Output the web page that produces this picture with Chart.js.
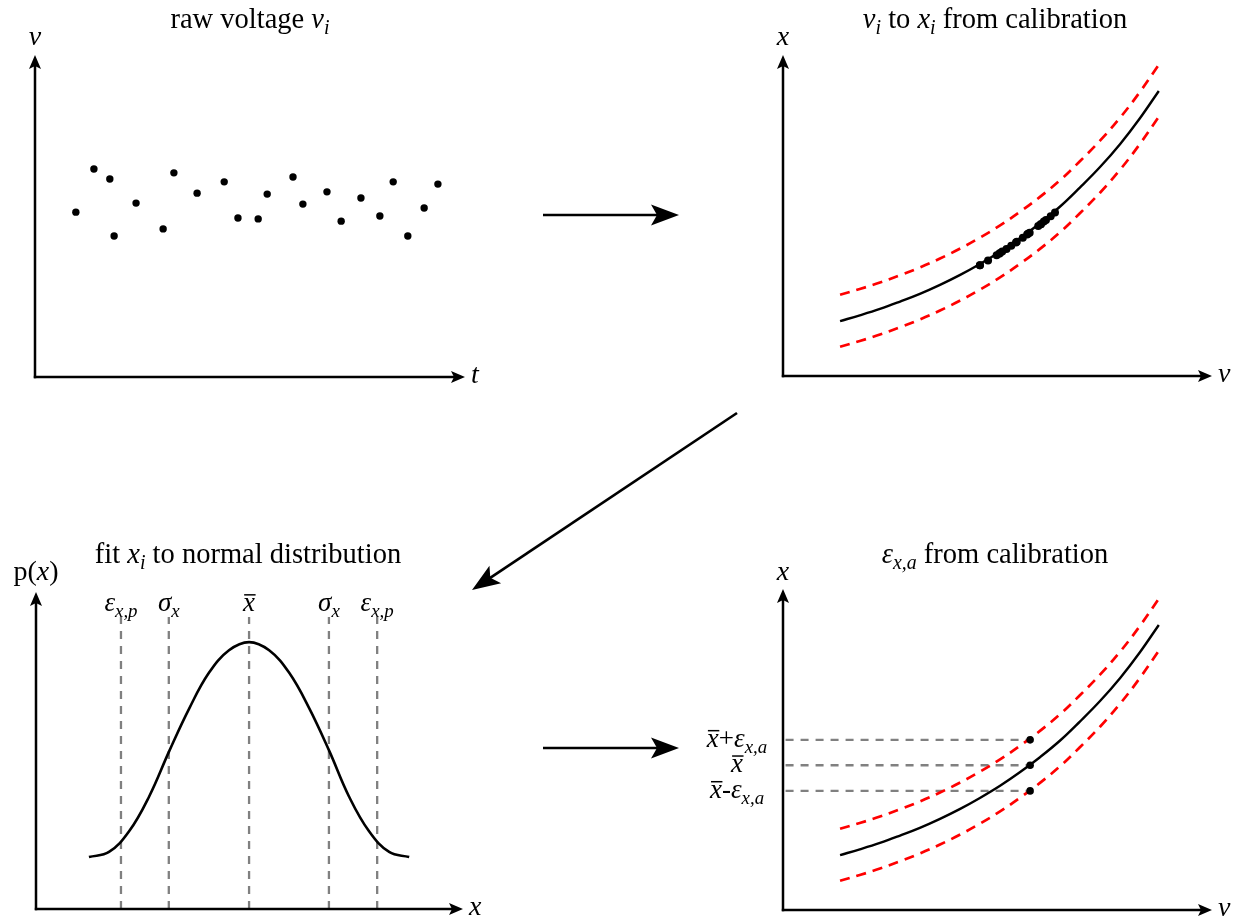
<!DOCTYPE html>
<html>
<head>
<meta charset="utf-8">
<title>Measurement uncertainty workflow</title>
<script src="https://cdn.jsdelivr.net/npm/chart.js@4.4.1/dist/chart.umd.min.js"></script>
<style>
  html, body { margin: 0; padding: 0; background: #ffffff; }
  #stage { position: relative; width: 1239px; height: 921px; overflow: hidden; background: #ffffff; }
  #stage canvas { position: absolute; left: 0; top: 0; }
</style>
</head>
<body>
<div id="stage">
  <canvas id="rawPanel" width="1239" height="921"></canvas>
  <canvas id="calPanel" width="1239" height="921"></canvas>
  <canvas id="fitPanel" width="1239" height="921"></canvas>
  <canvas id="accPanel" width="1239" height="921"></canvas>
</div>
<script>
// ---------- raw voltage samples (time, voltage) ----------
const rawTime    = [9.5, 13.7, 17.4, 18.4, 23.5, 29.8, 32.3, 37.7, 44.0, 47.2, 51.9,
                    54.0, 60.0, 62.3, 67.9, 71.2, 75.8, 80.2, 83.3, 86.7, 90.5, 93.7];
const rawVoltage = [51.2, 64.6, 61.5, 43.8, 54.0, 46.0, 63.4, 57.1, 60.6, 49.4, 49.1,
                    56.8, 62.1, 53.7, 57.5, 48.4, 55.6, 50.0, 60.6, 43.8, 52.5, 59.9];

// ---------- calibration curve and its uncertainty band ----------
const calibV     = [13.3, 17.9, 22.6, 27.3, 31.9, 36.6, 41.3, 45.9, 50.6,
                    55.2, 59.9, 64.6, 69.2, 73.9, 78.6, 83.2, 87.6];
const calibX     = [17.1, 18.9, 20.9, 23.2, 25.6, 28.4, 31.5, 34.9, 38.7,
                    42.9, 47.6, 52.8, 58.7, 65.1, 72.3, 80.3, 88.8];
const calibUpper = [25.3, 27.1, 29.1, 31.4, 33.8, 36.6, 39.7, 43.1, 46.9,
                    51.1, 55.8, 61.0, 66.9, 73.3, 80.5, 88.5, 97.0];
const calibLower = [9.1, 10.9, 12.9, 15.2, 17.6, 20.4, 23.5, 26.9, 30.7,
                    34.9, 39.6, 44.8, 50.7, 57.1, 64.3, 72.3, 80.8];

// ---------- samples converted through the calibration ----------
const convV = [45.9, 45.9, 47.8, 49.8, 50.4, 50.6, 51.1, 52.1, 53.2, 54.3, 54.5,
               55.9, 56.9, 57.1, 57.5, 59.5, 60.1, 60.1, 60.8, 61.3, 62.4, 63.4];
const convX = [34.5, 34.5, 36.0, 37.6, 38.1, 38.3, 38.8, 39.6, 40.6, 41.6, 41.8,
               43.1, 44.1, 44.3, 44.6, 46.7, 47.3, 47.3, 48.1, 48.6, 49.8, 50.9];

// ---------- fitted normal distribution ----------
const pdfX = [12.4, 17.1, 21.8, 26.5, 31.2, 35.9, 40.5, 45.2, 49.9,
              54.6, 59.3, 64.0, 68.7, 73.3, 78.0, 82.7, 87.4];
const pdfP = [16.4, 18.0, 24.5, 35.5, 49.8, 63.3, 74.5, 81.6, 84.2,
              81.6, 74.5, 63.3, 49.8, 35.5, 24.5, 18.0, 16.4];
const pdfMarks = [19.9, 31.1, 49.9, 68.6, 79.9];          // eps, sigma, mean, sigma, eps
const pdfMarkTop = 92.1;

// ---------- accuracy ----------
const meanV = 57.6;
const accLevels = [53.0, 45.1, 37.1];                      // mean+eps, mean, mean-eps

// ---------- drawing helpers ----------
const FONT = '"Liberation Serif", "Times New Roman", serif';
const TITLE_SIZE = 28.5, AXIS_SIZE = 28, MARK_SIZE = 27;

function segFont(s, size) {
  const sz = s.sub ? size * 0.7 : size;
  return (s.it ? 'italic ' : '') + sz.toFixed(1) + 'px ' + FONT;
}

function drawRich(ctx, segs, x, y, size, align) {
  const widths = segs.map(s => { ctx.font = segFont(s, size); return ctx.measureText(s.t).width; });
  const total = widths.reduce((a, b) => a + b, 0);
  let cx = align === 'center' ? x - total / 2 : align === 'right' ? x - total : x;
  ctx.textBaseline = 'alphabetic';
  ctx.textAlign = 'left';
  segs.forEach((s, i) => {
    ctx.font = segFont(s, size);
    const yy = s.sub ? y + size * 0.22 : y;
    ctx.fillText(s.t, cx, yy);
    if (s.bar) {
      const top = yy - size * 0.6;
      ctx.lineWidth = Math.max(1.3, size * 0.055);
      ctx.beginPath();
      ctx.moveTo(cx + size * 0.04, top);
      ctx.lineTo(cx + widths[i] + size * 0.02, top);
      ctx.stroke();
    }
    cx += widths[i];
  });
}

function arrow(ctx, x1, y1, x2, y2, len, half, notch, lw) {
  const a = Math.atan2(y2 - y1, x2 - x1);
  const ux = Math.cos(a), uy = Math.sin(a);
  const nx = x2 - ux * (len - notch), ny = y2 - uy * (len - notch);
  const bx = x2 - ux * len, by = y2 - uy * len;
  ctx.lineWidth = lw;
  ctx.beginPath();
  ctx.moveTo(x1, y1);
  ctx.lineTo(nx + ux, ny + uy);
  ctx.stroke();
  ctx.beginPath();
  ctx.moveTo(x2, y2);
  ctx.lineTo(bx - uy * half, by + ux * half);
  ctx.lineTo(nx, ny);
  ctx.lineTo(bx + uy * half, by - ux * half);
  ctx.closePath();
  ctx.fill();
}

// axes with arrow heads, axis names and the panel title
function makeDecor(id, cfg) {
  return {
    id: id,
    afterDatasetsDraw(chart) {
      const ctx = chart.ctx, a = chart.chartArea;
      ctx.save();
      ctx.fillStyle = '#000';
      ctx.strokeStyle = '#000';
      ctx.lineCap = 'butt';
      arrow(ctx, a.left - 1.2, a.bottom, a.right, a.bottom, 14, 6, 3, 2.5);
      arrow(ctx, a.left, a.bottom + 1.2, a.left, a.top, 14, 6, 3, 2.5);
      drawRich(ctx, cfg.title, cfg.titleAt[0], cfg.titleAt[1], TITLE_SIZE, 'center');
      drawRich(ctx, cfg.yName, a.left, cfg.yNameY, AXIS_SIZE, 'center');
      drawRich(ctx, cfg.xName, a.right + 6, a.bottom + 6, AXIS_SIZE, 'left');
      if (cfg.extra) cfg.extra(chart, ctx);
      ctx.restore();
    }
  };
}

// the arrows that lead from one panel to the next
const flowPlugin = {
  id: 'flow',
  afterDraw(chart) {
    const ctx = chart.ctx;
    ctx.save();
    ctx.fillStyle = '#000';
    ctx.strokeStyle = '#000';
    arrow(ctx, 543, 215, 679, 215, 28, 10.5, 6, 2.7);
    arrow(ctx, 737, 413, 472, 590, 28, 10.5, 6, 2.7);
    arrow(ctx, 543, 748, 679, 748, 28, 10.5, 6, 2.7);
    ctx.restore();
  }
};

const pts = (xs, ys) => xs.map((x, i) => ({ x: x, y: ys[i] }));

function baseOptions(area) {
  return {
    responsive: false,
    animation: false,
    devicePixelRatio: 1,
    events: [],
    layout: { padding: { left: area[0], top: area[1], right: 1239 - area[2], bottom: 921 - area[3] } },
    elements: { line: { capBezierPoints: false } },
    scales: {
      x: { type: 'linear', min: 0, max: 100, display: false },
      y: { type: 'linear', min: 0, max: 100, display: false }
    },
    plugins: { legend: { display: false }, tooltip: { enabled: false } }
  };
}

// datasets listed first are painted last (on top)
function curveSet(xs, ys, color, width, dash) {
  return {
    data: pts(xs, ys), showLine: true, borderColor: color, borderWidth: width,
    borderDash: dash || [], pointRadius: 0, tension: 0.4,
    fill: false, clip: false
  };
}

function guideSet(xs, ys) {
  return {
    data: pts(xs, ys), showLine: true, borderColor: 'rgb(128, 128, 128)', borderWidth: 2.3,
    borderDash: [8, 7], pointRadius: 0, tension: 0, fill: false, clip: false
  };
}

function dotSet(xs, ys, r) {
  return {
    data: pts(xs, ys), showLine: false, pointRadius: r, pointBackgroundColor: '#000',
    pointBorderWidth: 0, borderColor: '#000', clip: false
  };
}

const RED = 'rgb(255, 0, 0)';
const I = true;

// ---------- panel 1: raw voltage ----------
new Chart(document.getElementById('rawPanel'), {
  type: 'scatter',
  data: { datasets: [dotSet(rawTime, rawVoltage, 3.7)] },
  options: baseOptions([35, 55, 465, 377]),
  plugins: [flowPlugin, makeDecor('decorRaw', {
    title: [{ t: 'raw voltage ' }, { t: 'v', it: I }, { t: 'i', it: I, sub: I }],
    titleAt: [250, 28],
    yName: [{ t: 'v', it: I }], yNameY: 45,
    xName: [{ t: 't', it: I }]
  })]
});

// ---------- panel 2: conversion through the calibration ----------
new Chart(document.getElementById('calPanel'), {
  type: 'scatter',
  data: { datasets: [
    dotSet(convV, convX, 4),
    curveSet(calibV, calibX, '#000', 2.4),
    curveSet(calibV, calibUpper, RED, 2.7, [10, 7]),
    curveSet(calibV, calibLower, RED, 2.7, [10, 7])
  ] },
  options: baseOptions([783, 55, 1212, 376]),
  plugins: [makeDecor('decorCal', {
    title: [{ t: 'v', it: I }, { t: 'i', it: I, sub: I }, { t: ' to ' }, { t: 'x', it: I },
            { t: 'i', it: I, sub: I }, { t: ' from calibration' }],
    titleAt: [995, 28],
    yName: [{ t: 'x', it: I }], yNameY: 45,
    xName: [{ t: 'v', it: I }]
  })]
});

// ---------- panel 3: normal distribution fit ----------
const markNames = [
  [{ t: 'ε', it: I }, { t: 'x,p', it: I, sub: I }],
  [{ t: 'σ', it: I }, { t: 'x', it: I, sub: I }],
  [{ t: 'x', it: I, bar: I }],
  [{ t: 'σ', it: I }, { t: 'x', it: I, sub: I }],
  [{ t: 'ε', it: I }, { t: 'x,p', it: I, sub: I }]
];
new Chart(document.getElementById('fitPanel'), {
  type: 'scatter',
  data: { datasets: [curveSet(pdfX, pdfP, '#000', 2.6)]
    .concat(pdfMarks.map(m => guideSet([m, m], [0, pdfMarkTop]))) },
  options: baseOptions([36, 592, 463, 909]),
  plugins: [makeDecor('decorFit', {
    title: [{ t: 'fit ' }, { t: 'x', it: I }, { t: 'i', it: I, sub: I }, { t: ' to normal distribution' }],
    titleAt: [248, 563],
    yName: [{ t: 'p(' }, { t: 'x', it: I }, { t: ')' }], yNameY: 580,
    xName: [{ t: 'x', it: I }],
    extra(chart, ctx) {
      const sx = chart.scales.x, sy = chart.scales.y;
      pdfMarks.forEach((m, i) => {
        drawRich(ctx, markNames[i], sx.getPixelForValue(m), sy.getPixelForValue(pdfMarkTop) - 6, MARK_SIZE, 'center');
      });
    }
  })]
});

// ---------- panel 4: accuracy from the calibration band ----------
const levelNames = [
  [{ t: 'x', it: I, bar: I }, { t: '+' }, { t: 'ε', it: I }, { t: 'x,a', it: I, sub: I }],
  [{ t: 'x', it: I, bar: I }],
  [{ t: 'x', it: I, bar: I }, { t: '-' }, { t: 'ε', it: I }, { t: 'x,a', it: I, sub: I }]
];
new Chart(document.getElementById('accPanel'), {
  type: 'scatter',
  data: { datasets: [
      dotSet(accLevels.map(() => meanV), accLevels, 3.8),
      curveSet(calibV, calibX, '#000', 2.4),
      curveSet(calibV, calibUpper, RED, 2.7, [10, 7]),
      curveSet(calibV, calibLower, RED, 2.7, [10, 7])
    ].concat(accLevels.map(l => guideSet([0.6, meanV], [l, l]))) },
  options: baseOptions([783, 589, 1212, 910]),
  plugins: [makeDecor('decorAcc', {
    title: [{ t: 'ε', it: I }, { t: 'x,a', it: I, sub: I }, { t: ' from calibration' }],
    titleAt: [995, 563],
    yName: [{ t: 'x', it: I }], yNameY: 580,
    xName: [{ t: 'v', it: I }],
    extra(chart, ctx) {
      const sy = chart.scales.y;
      accLevels.forEach((l, i) => {
        drawRich(ctx, levelNames[i], 737, sy.getPixelForValue(l) + 7, MARK_SIZE, 'center');
      });
    }
  })]
});
</script>
</body>
</html>
